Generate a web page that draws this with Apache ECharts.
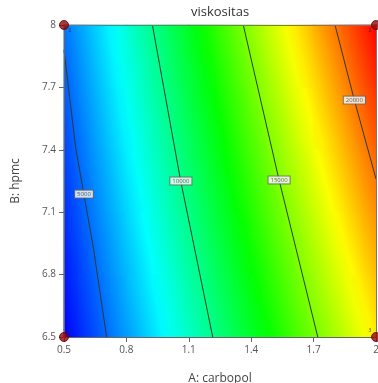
<!DOCTYPE html>
<html>
<head>
<meta charset="utf-8">
<script src="https://cdn.jsdelivr.net/npm/echarts@6/dist/echarts.min.js"></script>
<style>
  html, body { margin: 0; padding: 0; background: #fff; }
  #main { width: 378px; height: 383px; }
</style>
</head>
<body>
<div id="main"></div>
<script>
// 刻度节点处读出的粘度估计值（每行一个 hpmc 水平）
const carbopol = [0.5, 0.8, 1.1, 1.4, 1.7, 2.0];
const hpmc = [6.5, 6.8, 7.1, 7.4, 7.7, 8.0];
const visc65 = [2980, 5930, 8890, 11850, 14810, 17760];
const visc68 = [3410, 6460, 9520, 12570, 15620, 18680];
const visc71 = [3850, 7000, 10140, 13290, 16440, 19590];
const visc74 = [4290, 7530, 10770, 14010, 17250, 20500];
const visc77 = [4720, 8060, 11400, 14730, 18070, 21410];
const visc80 = [5160, 8590, 12020, 15460, 18890, 22320];
const viscRows = [visc65, visc68, visc71, visc74, visc77, visc80];

// 等高线（从图上读的点）
const contourLevels = [5000, 10000, 15000, 20000];
const contour5000 = [[0.5, 7.88], [0.556, 7.41], [0.641, 6.93], [0.705, 6.5]];
const contour10000 = [[0.925, 8], [1.061, 7.25], [1.215, 6.5]];
const contour15000 = [[1.362, 8], [1.534, 7.255], [1.72, 6.5]];
const contour20000 = [[1.803, 8], [1.896, 7.639], [2.0, 7.26]];
const labelPts = [[0.596, 7.187], [1.062, 7.25], [1.534, 7.255], [1.896, 7.639]];

// 设计点
const designPts = [[0.5, 8], [2, 8], [0.5, 6.5], [2, 6.5]];
const designRuns = ['2', '2', '3', '3'];

const ramp = ['#0000ff', '#00ffff', '#00ff00', '#ffff00', '#ff0000'];
let vMin = Infinity, vMax = -Infinity;
viscRows.forEach(r => r.forEach(v => { vMin = Math.min(vMin, v); vMax = Math.max(vMax, v); }));
const colorOf = v => echarts.color.lerp(Math.max(0, Math.min(1, (v - vMin) / (vMax - vMin))), ramp);

const cells = [];
for (let j = 0; j < hpmc.length - 1; j++) {
  for (let i = 0; i < carbopol.length - 1; i++) {
    cells.push([carbopol[i], hpmc[j], carbopol[i + 1], hpmc[j + 1],
      viscRows[j][i], viscRows[j][i + 1], viscRows[j + 1][i], viscRows[j + 1][i + 1]]);
  }
}

// 每个格子用平面近似，沿梯度方向铺渐变
function renderCell(params, api) {
  const p0 = api.coord([api.value(0), api.value(1)]);
  const p1 = api.coord([api.value(2), api.value(3)]);
  const v00 = api.value(4), v10 = api.value(5), v01 = api.value(6), v11 = api.value(7);
  const w = p1[0] - p0[0], h = p1[1] - p0[1];
  const gx = ((v10 - v00) + (v11 - v01)) / 2 / w;
  const gy = ((v01 - v00) + (v11 - v10)) / 2 / h;
  const g = Math.sqrt(gx * gx + gy * gy) || 1e-9;
  const ux = gx / g, uy = gy / g;
  const cx = (p0[0] + p1[0]) / 2, cy = (p0[1] + p1[1]) / 2;
  const vc = (v00 + v10 + v01 + v11) / 4;
  const L = Math.abs(w / 2 * ux) + Math.abs(h / 2 * uy);
  const stops = [];
  for (let k = 0; k <= 8; k++) {
    const t = k / 8;
    stops.push({ offset: t, color: colorOf(vc + (-L + 2 * L * t) * g) });
  }
  return {
    type: 'rect',
    silent: true,
    shape: { x: p0[0] - 0.5, y: p1[1] - 0.5, width: w + 1, height: -h + 1 },
    style: {
      fill: new echarts.graphic.LinearGradient(cx - L * ux, cy - L * uy, cx + L * ux, cy + L * uy, stops, true)
    }
  };
}

const contourLine = data => ({
  type: 'line',
  data: data,
  symbol: 'none',
  silent: true,
  z: 5,
  lineStyle: { color: '#2f3a30', width: 1 }
});

const cornerOffset = [[6, 6], [-6, 6], [6, -6], [-6, -6]];

const myChart = echarts.init(document.getElementById('main'));
myChart.setOption({
  animation: false,
  textStyle: { fontFamily: 'Open Sans' },
  title: {
    text: 'viskositas',
    left: 220,
    top: 6,
    textAlign: 'center',
    padding: 0,
    textStyle: { fontSize: 13, fontWeight: 'normal', color: '#333' }
  },
  grid: { left: 64, right: 2, top: 25, bottom: 46, outerBoundsMode: 'none', containLabel: false },
  xAxis: [
    {
      type: 'value', min: 0.5, max: 2, position: 'bottom', z: 10,
      axisLine: { onZero: false, lineStyle: { color: '#666' } },
      axisTick: { show: true, length: 5, customValues: carbopol, lineStyle: { color: '#666' } },
      axisLabel: { customValues: carbopol, color: '#555', fontSize: 10, margin: 8 },
      splitLine: { show: false },
      name: 'A: carbopol', nameLocation: 'middle', nameGap: 36,
      nameTextStyle: { color: '#444', fontSize: 12 }
    },
    {
      type: 'value', min: 0.5, max: 2, position: 'top', z: 10,
      axisLine: { onZero: false, lineStyle: { color: '#777' } },
      axisTick: { show: false }, axisLabel: { show: false }, splitLine: { show: false }
    }
  ],
  yAxis: [
    {
      type: 'value', min: 6.5, max: 8, position: 'left', z: 10,
      axisLine: { onZero: false, lineStyle: { color: '#666' } },
      axisTick: { show: true, length: 5, customValues: hpmc, lineStyle: { color: '#666' } },
      axisLabel: { customValues: hpmc, color: '#555', fontSize: 10, margin: 8 },
      splitLine: { show: false },
      name: 'B: hpmc', nameLocation: 'middle', nameGap: 42,
      nameTextStyle: { color: '#444', fontSize: 12 }
    },
    {
      type: 'value', min: 6.5, max: 8, position: 'right', z: 10,
      axisLine: { onZero: false, lineStyle: { color: '#777' } },
      axisTick: { show: false }, axisLabel: { show: false }, splitLine: { show: false }
    }
  ],
  series: [
    {
      type: 'custom',
      renderItem: renderCell,
      data: cells,
      encode: { x: [0, 2], y: [1, 3] },
      z: 1
    },
    contourLine(contour5000),
    contourLine(contour10000),
    contourLine(contour15000),
    contourLine(contour20000),
    {
      type: 'scatter',
      silent: true,
      z: 6,
      symbol: 'rect',
      symbolSize: 1,
      itemStyle: { color: 'rgba(0,0,0,0)' },
      label: {
        show: true, position: 'inside',
        formatter: p => p.value[2],
        fontSize: 6, color: '#333',
        backgroundColor: '#fff', borderColor: '#666', borderWidth: 1,
        padding: [1, 2, 0, 2]
      },
      data: labelPts.map((p, k) => [p[0], p[1], contourLevels[k]])
    },
    {
      type: 'scatter',
      silent: true,
      clip: false,
      z: 20,
      symbolSize: 9,
      itemStyle: { color: '#960808', borderColor: '#5a0000', borderWidth: 1 },
      label: { show: true, position: 'inside', fontSize: 5, color: '#222' },
      data: designPts.map((p, k) => ({
        value: p,
        label: { formatter: designRuns[k], offset: cornerOffset[k] }
      }))
    }
  ]
});
</script>
</body>
</html>
